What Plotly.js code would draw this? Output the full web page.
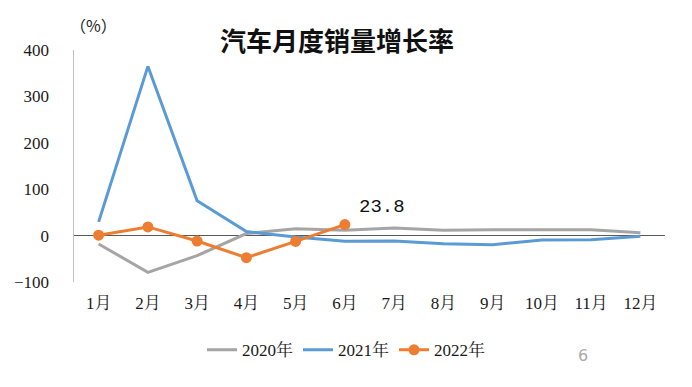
<!DOCTYPE html>
<html>
<head>
<meta charset="utf-8">
<script src="https://cdn.plot.ly/plotly-3.0.1.min.js"></script>
<style>html,body{margin:0;padding:0;background:#fff;}#chart{width:692px;height:387px;}</style>
</head>
<body>
<div id="chart"></div>
<script>
const months = ['1月','2月','3月','4月','5月','6月','7月','8月','9月','10月','11月','12月'];
const months2022 = ['1月','2月','3月','4月','5月','6月'];
const growth2020 = [-18.0, -79.1, -43.3, 4.4, 14.5, 11.6, 16.4, 11.6, 12.8, 12.5, 12.6, 6.4];
const growth2021 = [29.5, 364.8, 74.9, 8.6, -3.1, -12.4, -11.9, -17.8, -19.6, -9.4, -9.1, -1.6];
const growth2022 = [0.9, 18.7, -11.7, -47.6, -12.6, 23.8];
const yTicks = [-100, 0, 100, 200, 300, 400];

const tickFont = {family: '"Liberation Serif", "Noto Serif CJK SC", "Noto Sans CJK SC", serif', size: 17, color: '#1a1a1a'};

const traces = [
  {x: months, y: growth2020, name: '2020年', type: 'scatter', mode: 'lines',
   line: {color: '#a5a5a5', width: 3}},
  {x: months, y: growth2021, name: '2021年', type: 'scatter', mode: 'lines',
   line: {color: '#5b9bd5', width: 3}},
  {x: months2022, y: growth2022, name: '2022年', type: 'scatter', mode: 'lines+markers',
   line: {color: '#ed7d31', width: 3}, marker: {color: '#ed7d31', size: 11}}
];

const layout = {
  width: 692, height: 387,
  margin: {l: 74, r: 27, t: 50, b: 105},
  paper_bgcolor: '#fff', plot_bgcolor: '#fff',
  showlegend: true,
  title: {text: '<b>汽车月度销量增长率</b>', x: 0.487, xanchor: 'center', y: 0.892, yanchor: 'middle',
    font: {family: '"Noto Sans CJK SC", sans-serif', size: 26, color: '#111'}},
  xaxis: {type: 'category', range: [-0.5, 11.5], showgrid: false, zeroline: false,
    showline: false, ticks: '', tickfont: tickFont, ticklabelstandoff: 9, automargin: false},
  yaxis: {range: [-100, 400], tickvals: yTicks, showgrid: false, zeroline: true,
    zerolinecolor: '#595959', zerolinewidth: 1.5, showline: true, linecolor: '#c0c0c0', linewidth: 1.5,
    ticks: '', tickfont: tickFont, ticklabelstandoff: 20, automargin: false},
  legend: {orientation: 'h', x: 0.5, xref: 'container', xanchor: 'center', y: 0.095, yref: 'container', yanchor: 'middle',
    font: {family: '"Liberation Serif", "Noto Serif CJK SC", serif', size: 17, color: '#1a1a1a'},
    itemwidth: 30, tracegroupgap: 0},
  annotations: [
    {x: '6月', y: 23.8, xref: 'x', yref: 'y', text: '23.8', showarrow: false,
     xshift: 37, yshift: 18, font: {family: '"Liberation Mono", "DejaVu Sans Mono", monospace', size: 19, color: '#111'}},
    {x: -0.01, y: (282 - 25) / 232, xref: 'paper', yref: 'paper', text: '（%）', showarrow: false,
     xanchor: 'left', yanchor: 'middle', font: {family: '"Noto Sans CJK SC", sans-serif', size: 16, color: '#222'}},
    {x: (583 - 74) / 591, y: (282 - 355) / 232, xref: 'paper', yref: 'paper', text: '6', showarrow: false,
     xanchor: 'center', yanchor: 'middle', font: {family: '"DejaVu Sans", sans-serif', size: 16, color: '#aaa'}}
  ]
};

Plotly.newPlot('chart', traces, layout, {displayModeBar: false, staticPlot: true});
</script>
</body>
</html>
